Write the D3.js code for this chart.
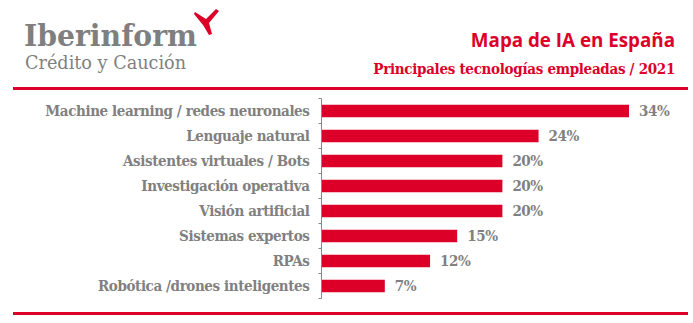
<!DOCTYPE html>
<html><head><meta charset="utf-8">
<script src="https://cdn.jsdelivr.net/npm/d3@7"></script>
<style>body{margin:0;background:#fff}svg{display:block}</style>
</head><body>
<svg id="c" width="693" height="323"></svg>
<script>
const categories = ["Machine learning / redes neuronales","Lenguaje natural","Asistentes virtuales / Bots","Investigación operativa","Visión artificial","Sistemas expertos","RPAs","Robótica /drones inteligentes"];
const values = [34,24,20,20,20,15,12,7];
const valueLabels = ["34%","24%","20%","20%","20%","15%","12%","7%"];

const RED = "#dc0029", GRAY = "#808080";
const svg = d3.select("#c");

// header lines
svg.append("rect").attr("x",13).attr("y",87).attr("width",675).attr("height",3).attr("fill",RED);
svg.append("rect").attr("x",13).attr("y",312).attr("width",675).attr("height",3).attr("fill",RED);

// logo
svg.append("text").attr("x",24).attr("y",46).attr("font-family","DejaVu Serif").attr("font-weight","bold")
  .attr("font-size",30).attr("fill","#7f7f7f").attr("textLength",173).attr("lengthAdjust","spacingAndGlyphs").text("Iberinform");
svg.append("text").attr("x",25).attr("y",69).attr("font-family","DejaVu Serif Condensed")
  .attr("font-size",18).attr("fill","#7f7f7f").attr("textLength",161).attr("lengthAdjust","spacingAndGlyphs").text("Crédito y Caución");
svg.append("path").attr("d","M194,14 L195,12 L206,19 L216,9 L219,11 L209,23 L212,34 L209,35 L203,25 Z").attr("fill",RED);

// titles
svg.append("text").attr("x",675).attr("y",47).attr("text-anchor","end").attr("font-family","Open Sans")
  .attr("font-weight","bold").attr("font-size",18.8).attr("fill",RED).text("Mapa de IA en España");
svg.append("text").attr("x",675).attr("y",74).attr("text-anchor","end").attr("font-family","DejaVu Serif Condensed")
  .attr("font-weight","bold").attr("font-size",15).attr("letter-spacing",-0.3).attr("fill",RED).text("Principales tecnologías empleadas / 2021");

// chart
const x0 = 321.5;
const x = d3.scaleLinear().domain([0,34]).range([x0, 629]);
const y = d3.scaleBand().domain(categories).range([98.5, 298.5]).paddingInner(0.5).paddingOuter(0.25);

svg.selectAll("rect.bar").data(categories).enter().append("rect").attr("class","bar")
  .attr("x",x(0)+0.5).attr("y",d=>y(d)).attr("height",y.bandwidth())
  .attr("width",(d,i)=>x(values[i])-x(0)-0.5).attr("fill",RED);

const yAxis = d3.axisLeft(y).tickSize(0).tickPadding(12);
const g = svg.append("g").attr("transform",`translate(${x0},0)`).call(yAxis);
g.select(".domain").attr("stroke","#888").attr("d","M-3,98.5H0V298.5H-3");
g.selectAll(".tick text").attr("font-family","DejaVu Serif Condensed").attr("font-weight","bold")
  .attr("font-size",15).attr("letter-spacing",-0.4).attr("fill",GRAY);
// separator ticks between bands
const bounds = d3.range(1,8).map(i=>98.5+i*25);
g.selectAll("line.sep").data(bounds).enter().append("line").attr("class","sep")
  .attr("x1",-3).attr("x2",0).attr("y1",d=>d).attr("y2",d=>d).attr("stroke","#888");

svg.selectAll("text.val").data(categories).enter().append("text").attr("class","val")
  .attr("x",(d,i)=>x(values[i])+10).attr("y",d=>y(d)+y.bandwidth()/2).attr("dy","0.36em")
  .attr("font-family","DejaVu Serif Condensed").attr("font-weight","bold").attr("font-size",15)
  .attr("letter-spacing",-0.4).attr("fill",GRAY).text((d,i)=>valueLabels[i]);
</script>
</body></html>
